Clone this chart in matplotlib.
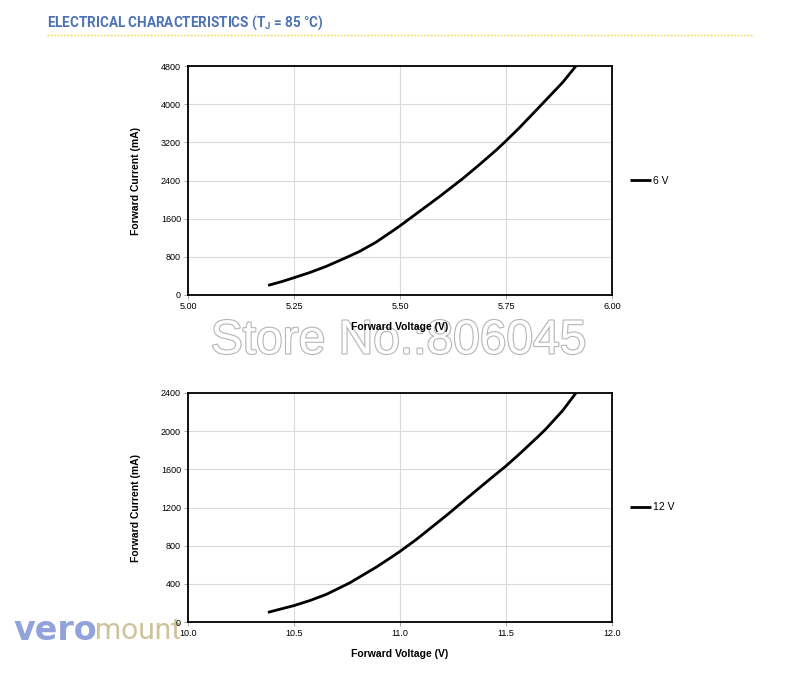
import matplotlib.pyplot as plt
import matplotlib.patheffects as pe

# 6 V curve
volt_6v = [5.189, 5.22, 5.25, 5.287, 5.326, 5.377, 5.404, 5.444, 5.483, 5.50, 5.538,
           5.592, 5.648, 5.687, 5.726, 5.75, 5.781, 5.829, 5.884, 5.915]
curr_6v = [202, 278, 362, 470, 600, 800, 910, 1110, 1345, 1450, 1700,
           2055, 2440, 2730, 3030, 3230, 3500, 3945, 4460, 4800]

# 12 V curve
volt_12v = [10.377, 10.5, 10.574, 10.653, 10.763, 10.888, 10.967, 11.0, 11.077, 11.187,
            11.225, 11.296, 11.374, 11.453, 11.5, 11.563, 11.657, 11.689, 11.767, 11.83]
curr_12v = [101, 172, 224, 290, 410, 575, 690, 740, 865, 1060,
            1128, 1260, 1405, 1550, 1635, 1760, 1955, 2025, 2215, 2400]

xticks_6v = [5.00, 5.25, 5.50, 5.75, 6.00]
yticks_6v = [0, 800, 1600, 2400, 3200, 4000, 4800]
xticks_12v = [10.0, 10.5, 11.0, 11.5, 12.0]
yticks_12v = [0, 400, 800, 1200, 1600, 2000, 2400]

title_color = '#4d72b6'

fig = plt.figure(figsize=(8, 6.81), dpi=100)

# header
fig.text(47 / 800, 1 - 23 / 681, 'ELECTRICAL CHARACTERISTICS (T$_\\mathregular{J}$ = 85 °C)',
         family='Roboto', weight='bold', fontsize=9.75, color=title_color, va='center', ha='left')
fig.add_artist(plt.Line2D([47 / 800, 753 / 800], [1 - 35 / 681, 1 - 35 / 681],
                          transform=fig.transFigure, color='#f0d84a', lw=1.0, ls=(0, (1.2, 1.2))))

# watermark behind everything
fig.text(0.498, 1 - 341 / 681, 'Store No.:806045', family='Liberation Sans', fontsize=34.5,
         color='white', ha='center', va='center', zorder=-1,
         path_effects=[pe.Stroke(linewidth=1.6, foreground='#b5b5b5'), pe.Normal()])


def draw_panel(ax, x, y, xticks, yticks, fmt, label):
    ax.plot(x, y, color='black', lw=2.0, solid_capstyle='butt', solid_joinstyle='round', label=label)
    ax.set_xlim(xticks[0], xticks[-1])
    ax.set_ylim(yticks[0], yticks[-1])
    ax.set_xticks(xticks)
    ax.set_yticks(yticks)
    ax.set_xticklabels([fmt.format(v) for v in xticks])
    ax.set_yticklabels([str(v) for v in yticks])
    ax.grid(True, color='#d9d9d9', lw=0.8)
    ax.set_axisbelow(True)
    ax.patch.set_alpha(0)
    for s in ax.spines.values():
        s.set_linewidth(1.3)
        s.set_color('black')
    ax.tick_params(length=3, width=0.6, color='#999999', labelsize=6.5, pad=2)
    for t in ax.get_xticklabels() + ax.get_yticklabels():
        t.set_family('Liberation Sans')
    ax.set_xlabel('Forward Voltage (V)', family='Liberation Sans', weight='bold', fontsize=7.5, labelpad=8)
    ax.set_ylabel('Forward Current (mA)', family='Liberation Sans', weight='bold', fontsize=7.5, labelpad=14)
    ax.legend(loc='center left', bbox_to_anchor=(1.02, 0.5), frameon=False,
              handlelength=2.0, handletextpad=0.2,
              prop={'family': 'Liberation Sans', 'size': 7.5})


ax1 = fig.add_axes([188 / 800, 1 - 295 / 681, 424 / 800, 229 / 681])
draw_panel(ax1, volt_6v, curr_6v, xticks_6v, yticks_6v, '{:.2f}', '6 V')

ax2 = fig.add_axes([188 / 800, 1 - 622 / 681, 424 / 800, 229 / 681])
draw_panel(ax2, volt_12v, curr_12v, xticks_12v, yticks_12v, '{:.1f}', '12 V')

# logo watermark
fig.text(13 / 800, 1 - 631 / 681, 'vero', family='DejaVu Sans', weight='bold', fontsize=24,
         color='#7f93d6', ha='left', va='center', alpha=0.85, zorder=-1)
fig.text(95 / 800, 1 - 631 / 681, 'mount', family='Roboto', fontsize=21.5,
         color='#c7b98c', ha='left', va='center', alpha=0.85, zorder=-1)

fig.savefig('out.png', dpi=100, facecolor='white')
